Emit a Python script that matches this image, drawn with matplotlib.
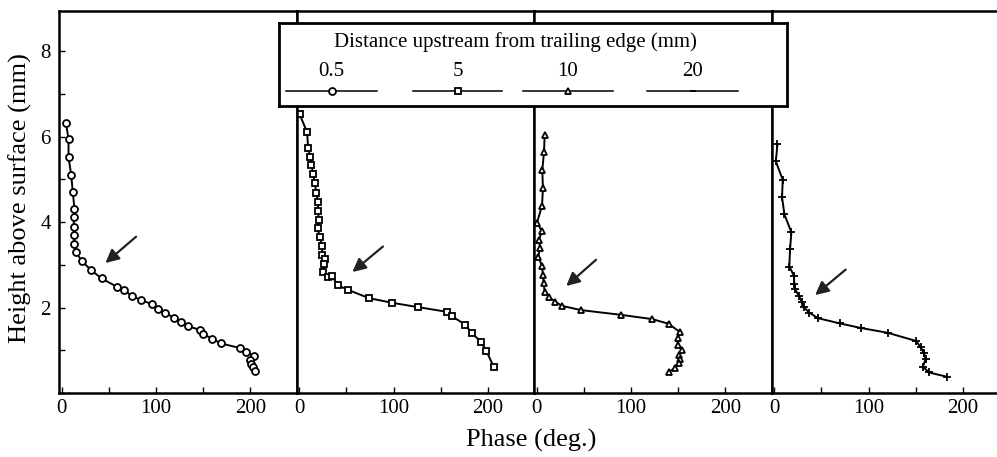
import matplotlib
matplotlib.use("Agg")
import matplotlib.pyplot as plt
from matplotlib.ticker import MultipleLocator, FuncFormatter

plt.rcParams["font.family"] = ["Liberation Serif", "DejaVu Serif"]

# Phase profiles at four distances upstream of the trailing edge
dist_labels = ["0.5", "5", "10", "20"]
markers = ["o", "s", "^", "+"]

phase_05 = [4.3, 7.1, 7.1, 9.9, 11.6, 13.4, 12.7, 12.7, 13.0, 13.0, 15.1, 21.5,
            30.9, 42.2, 59, 66, 74, 84.3, 95.8, 101.8, 109.5, 119.4, 126.4, 134,
            146.4, 149.9, 159.7, 168.8, 189.5, 195.8, 203.6, 200, 200.8, 202.5, 204.6]
height_05 = [6.33, 5.94, 5.52, 5.11, 4.71, 4.31, 4.11, 3.89, 3.69, 3.49, 3.29, 3.08,
             2.88, 2.68, 2.48, 2.40, 2.28, 2.17, 2.08, 1.97, 1.87, 1.76, 1.67, 1.56,
             1.48, 1.38, 1.27, 1.16, 1.05, 0.97, 0.86, 0.77, 0.69, 0.62, 0.52]

phase_5 = [0.2, 8.3, 9.3, 11.8, 12.8, 14.6, 16.3, 18.1, 19.9, 19.9, 20.6, 19.5,
           21.6, 24.4, 24.1, 26.9, 26.2, 25.1, 30, 34.6, 40.9, 52.1, 73.9, 98.8,
           125.8, 156.7, 161.6, 176, 183, 193.2, 198.5, 206.6]
height_5 = [6.53, 6.10, 5.73, 5.53, 5.34, 5.13, 4.91, 4.69, 4.46, 4.25, 4.05, 3.86,
            3.65, 3.43, 3.23, 3.13, 3.02, 2.84, 2.72, 2.74, 2.52, 2.41, 2.22, 2.11,
            2.01, 1.90, 1.80, 1.60, 1.40, 1.19, 0.98, 0.60]

phase_10 = [8.3, 7.6, 5.8, 6.5, 5.5, 0.2, 5.5, 2.0, 3.7, 1.3, 5.5, 6.5, 7.2, 8.3,
            12.8, 19.5, 26.5, 46.9, 89, 122.3, 139.9, 152.1, 149.3, 149.7, 153.9,
            150.7, 151.4, 150.4, 146.9, 140.6]
height_10 = [6.04, 5.63, 5.22, 4.79, 4.38, 3.99, 3.78, 3.58, 3.39, 3.19, 2.98, 2.76,
             2.57, 2.37, 2.24, 2.14, 2.04, 1.94, 1.83, 1.73, 1.62, 1.42, 1.28, 1.12,
             1.01, 0.89, 0.79, 0.70, 0.59, 0.50]

phase_20 = [3.3, 1.6, 8.9, 8.2, 10.7, 18.1, 16.7, 15.9, 20.9, 21.2, 21.9, 26.5, 28.9,
            31.4, 37, 46.5, 69.3, 92.1, 120.2, 150, 155.2, 158.8, 160.5, 157.7, 164, 183.3]
height_20 = [5.82, 5.42, 4.99, 4.58, 4.18, 3.76, 3.37, 2.96, 2.74, 2.55, 2.43, 2.26, 2.14,
             2.01, 1.88, 1.75, 1.63, 1.52, 1.41, 1.22, 1.08, 0.93, 0.79, 0.62, 0.48, 0.38]

# arrow (tail, head) in data units for each panel
arrow_tails = [(81, 3.70), (91, 3.47), (65, 3.16), (78, 2.93)]
arrow_heads = [(44, 3.00), (54, 2.79), (29, 2.46), (41, 2.25)]

phases = [phase_05, phase_5, phase_10, phase_20]
heights = [height_05, height_5, height_10, height_20]

W, H = 997, 457
fig = plt.figure(figsize=(W / 100, H / 100), dpi=100)

panel_left = [59, 296.5, 534, 771.5]
panel_w = 237.5
top, bottom = 11, 393

for i in range(4):
    ax = fig.add_axes([panel_left[i] / W, 1 - bottom / H, panel_w / W, (bottom - top) / H])
    ms = 5 if markers[i] != "+" else 6
    ax.plot(phases[i], heights[i], color="black", lw=1.4, marker=markers[i],
            markersize=ms, markerfacecolor="white", markeredgecolor="black",
            markeredgewidth=1.3)
    ax.annotate("", xy=arrow_heads[i], xytext=arrow_tails[i],
                arrowprops=dict(arrowstyle="-|>", color="#222222", lw=1.6,
                                mutation_scale=20))
    ax.set_xlim(-3, 249)
    ax.set_ylim(0, 8.94)

    ax.xaxis.set_major_locator(MultipleLocator(50))
    ax.xaxis.set_major_formatter(FuncFormatter(lambda v, p: "%d" % v if v % 100 == 0 else ""))
    ax.tick_params(axis="x", direction="in", length=4, width=1, labelsize=15, pad=4)

    if i == 0:
        ax.yaxis.set_major_locator(MultipleLocator(2))
        ax.yaxis.set_minor_locator(MultipleLocator(1))
        ax.yaxis.set_major_formatter(FuncFormatter(lambda v, p: "%d" % v if v > 0 else ""))
        ax.tick_params(axis="y", which="both", direction="in", length=4, width=1,
                       labelsize=15, pad=6)
    else:
        ax.set_yticks([])

    for s in ax.spines.values():
        s.set_linewidth(1.8)
    if i == 3:
        ax.spines["right"].set_visible(False)

fig.text(531 / W, 1 - 440 / H, "Phase (deg.)", ha="center", va="center", fontsize=19)
fig.text(20 / W, 1 - 198 / H, "Height above surface (mm)", ha="center", va="center",
         rotation=90, fontsize=19)

# legend box drawn in its own axes, pixel units inside the box
lx0, lx1, ly0, ly1 = 279, 787, 23, 106
leg = fig.add_axes([lx0 / W, 1 - ly1 / H, (lx1 - lx0) / W, (ly1 - ly0) / H])
leg.set_xlim(lx0, lx1)
leg.set_ylim(ly1, ly0)
leg.set_xticks([])
leg.set_yticks([])
leg.set_facecolor("white")
for s in leg.spines.values():
    s.set_linewidth(2)
leg.text(515, 42, "Distance upstream from trailing edge (mm)", ha="center",
         va="center", fontsize=15)

sample_x = [(286, 377), (413, 502), (523, 613), (647, 738)]
for i in range(4):
    x0, x1 = sample_x[i]
    xm = (x0 + x1) / 2
    leg.text(xm, 71, dist_labels[i], ha="center", va="center", fontsize=15)
    leg.plot([x0, x1], [91, 91], color="black", lw=1.1)
    leg.plot([xm], [91], color="black", marker=markers[i] if i < 3 else "_",
             markersize=5, markerfacecolor="white", markeredgewidth=1.3)

fig.savefig("out.png", dpi=100)
